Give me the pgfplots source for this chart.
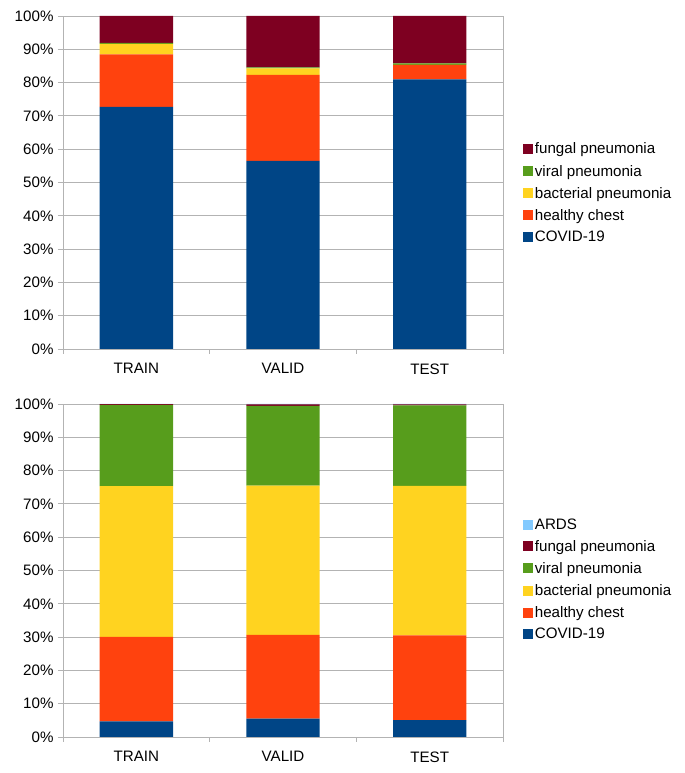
\documentclass[border=0pt]{standalone}
\usepackage{pgfplots}
\pgfplotsset{compat=1.18}
\usepackage{fontspec}
\setmainfont{Liberation Sans}
\definecolor{cCovid}{HTML}{004586}
\definecolor{cHealthy}{HTML}{FF420E}
\definecolor{cBact}{HTML}{FFD320}
\definecolor{cViral}{HTML}{579D1C}
\definecolor{cFungal}{HTML}{7E0021}
\definecolor{cArds}{HTML}{83CAFF}
\definecolor{cGrid}{HTML}{B3B3B3}
\pgfplotsset{
  mystyle/.style={
    scale only axis, width=440bp, height=333bp,
    ybar stacked, bar width=0.5,
    xmin=-0.5, xmax=2.5, ymin=0, ymax=100,
    xtick={0,1,2}, xticklabels={TRAIN,VALID,TEST},
    major x tick style={draw=none},
    minor xtick={-0.5,0.5,1.5,2.5},
    ytick={0,10,...,100},
    yticklabel={\pgfmathprintnumber[assume math mode=true]{\tick}\%},
    xtick pos=bottom, ytick pos=left,
    tick align=outside, major tick length=5bp, minor tick length=5bp,
    tick style={color=cGrid, line width=0.8pt},
    ymajorgrids, grid style={color=cGrid, line width=0.8pt},
    axis line style={color=cGrid, line width=0.8pt},
    xticklabel style={yshift=-6bp},
    yticklabel style={xshift=-1bp},
    every axis plot/.append style={draw=none},
    reverse legend,
    legend cell align=left,
    legend image code/.code={\fill[##1] (0bp,-5bp) rectangle (10bp,5bp);},
    legend style={draw=none, fill=none, anchor=west, row sep=5.6bp,
      font=\fontsize{15.2}{18}\selectfont},
  }
}
\begin{document}
\begin{tikzpicture}[font=\fontsize{15.2}{18}\selectfont]
\useasboundingbox (0,0) rectangle (685bp,773bp);
\begin{axis}[mystyle, at={(63bp,424bp)}, anchor=south west,
  legend style={at={(1.038,0.468)}}]
\addplot[fill=cCovid] coordinates {(0,72.7) (1,56.5) (2,81.0)};
\addplot[fill=cHealthy] coordinates {(0,15.8) (1,25.8) (2,4.3)};
\addplot[fill=cBact] coordinates {(0,3.1) (1,2.0) (2,0.05)};
\addplot[fill=cViral] coordinates {(0,0.3) (1,0.3) (2,0.4)};
\addplot[fill=cFungal] coordinates {(0,8.1) (1,15.4) (2,14.25)};
\legend{COVID-19,healthy chest,bacterial pneumonia,viral pneumonia,fungal pneumonia}
\end{axis}
\begin{axis}[mystyle, at={(63bp,36bp)}, anchor=south west,
  legend style={at={(1.038,0.473)}}]
\addplot[fill=cCovid] coordinates {(0,4.7) (1,5.5) (2,5.1)};
\addplot[fill=cHealthy] coordinates {(0,25.4) (1,25.2) (2,25.4)};
\addplot[fill=cBact] coordinates {(0,45.2) (1,44.8) (2,44.9)};
\addplot[fill=cViral] coordinates {(0,24.4) (1,23.9) (2,24.2)};
\addplot[fill=cFungal] coordinates {(0,0.25) (1,0.5) (2,0.3)};
\addplot[fill=cArds] coordinates {(0,0.05) (1,0.1) (2,0.1)};
\legend{COVID-19,healthy chest,bacterial pneumonia,viral pneumonia,fungal pneumonia,ARDS}
\end{axis}
\end{tikzpicture}
\end{document}
